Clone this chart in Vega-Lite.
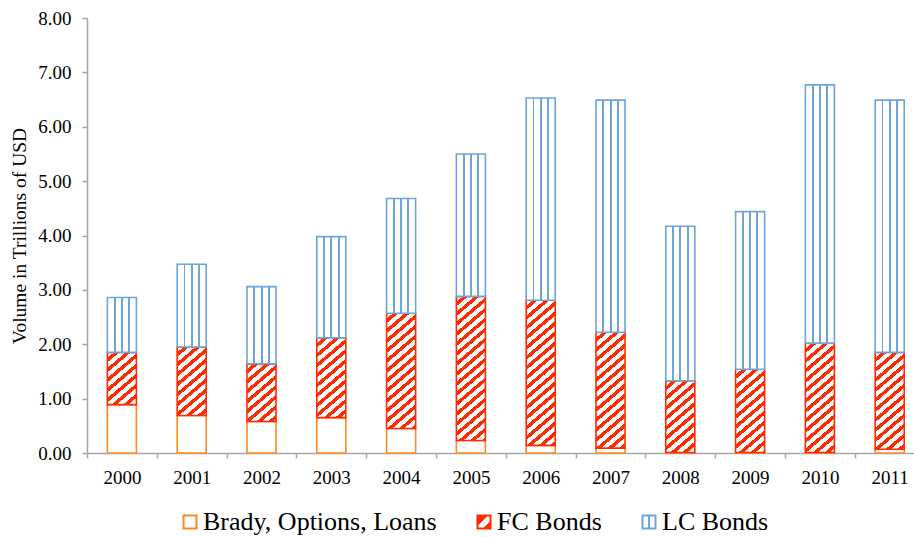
{
  "$schema": "https://vega.github.io/schema/vega-lite/v6.json",
  "autosize": "none",
  "width": 827,
  "height": 435,
  "padding": {"left": 87, "top": 18, "right": 0, "bottom": 84},
  "background": "white",
  "params": [
    {"name": "fcStops", "value": [
      {"offset": 0, "color": "white"}, {"offset": 0.0275, "color": "white"}, {"offset": 0.0275, "color": "#FF2A00"}, {"offset": 0.05, "color": "#FF2A00"},
      {"offset": 0.05, "color": "white"}, {"offset": 0.0775, "color": "white"}, {"offset": 0.0775, "color": "#FF2A00"}, {"offset": 0.1, "color": "#FF2A00"},
      {"offset": 0.1, "color": "white"}, {"offset": 0.1275, "color": "white"}, {"offset": 0.1275, "color": "#FF2A00"}, {"offset": 0.15, "color": "#FF2A00"},
      {"offset": 0.15, "color": "white"}, {"offset": 0.1775, "color": "white"}, {"offset": 0.1775, "color": "#FF2A00"}, {"offset": 0.2, "color": "#FF2A00"},
      {"offset": 0.2, "color": "white"}, {"offset": 0.2275, "color": "white"}, {"offset": 0.2275, "color": "#FF2A00"}, {"offset": 0.25, "color": "#FF2A00"},
      {"offset": 0.25, "color": "white"}, {"offset": 0.2775, "color": "white"}, {"offset": 0.2775, "color": "#FF2A00"}, {"offset": 0.3, "color": "#FF2A00"},
      {"offset": 0.3, "color": "white"}, {"offset": 0.3275, "color": "white"}, {"offset": 0.3275, "color": "#FF2A00"}, {"offset": 0.35, "color": "#FF2A00"},
      {"offset": 0.35, "color": "white"}, {"offset": 0.3775, "color": "white"}, {"offset": 0.3775, "color": "#FF2A00"}, {"offset": 0.4, "color": "#FF2A00"},
      {"offset": 0.4, "color": "white"}, {"offset": 0.4275, "color": "white"}, {"offset": 0.4275, "color": "#FF2A00"}, {"offset": 0.45, "color": "#FF2A00"},
      {"offset": 0.45, "color": "white"}, {"offset": 0.4775, "color": "white"}, {"offset": 0.4775, "color": "#FF2A00"}, {"offset": 0.5, "color": "#FF2A00"},
      {"offset": 0.5, "color": "white"}, {"offset": 0.5275, "color": "white"}, {"offset": 0.5275, "color": "#FF2A00"}, {"offset": 0.55, "color": "#FF2A00"},
      {"offset": 0.55, "color": "white"}, {"offset": 0.5775, "color": "white"}, {"offset": 0.5775, "color": "#FF2A00"}, {"offset": 0.6, "color": "#FF2A00"},
      {"offset": 0.6, "color": "white"}, {"offset": 0.6275, "color": "white"}, {"offset": 0.6275, "color": "#FF2A00"}, {"offset": 0.65, "color": "#FF2A00"},
      {"offset": 0.65, "color": "white"}, {"offset": 0.6775, "color": "white"}, {"offset": 0.6775, "color": "#FF2A00"}, {"offset": 0.7, "color": "#FF2A00"},
      {"offset": 0.7, "color": "white"}, {"offset": 0.7275, "color": "white"}, {"offset": 0.7275, "color": "#FF2A00"}, {"offset": 0.75, "color": "#FF2A00"},
      {"offset": 0.75, "color": "white"}, {"offset": 0.7775, "color": "white"}, {"offset": 0.7775, "color": "#FF2A00"}, {"offset": 0.8, "color": "#FF2A00"},
      {"offset": 0.8, "color": "white"}, {"offset": 0.8275, "color": "white"}, {"offset": 0.8275, "color": "#FF2A00"}, {"offset": 0.85, "color": "#FF2A00"},
      {"offset": 0.85, "color": "white"}, {"offset": 0.8775, "color": "white"}, {"offset": 0.8775, "color": "#FF2A00"}, {"offset": 0.9, "color": "#FF2A00"},
      {"offset": 0.9, "color": "white"}, {"offset": 0.9275, "color": "white"}, {"offset": 0.9275, "color": "#FF2A00"}, {"offset": 0.95, "color": "#FF2A00"},
      {"offset": 0.95, "color": "white"}, {"offset": 0.9775, "color": "white"}, {"offset": 0.9775, "color": "#FF2A00"}, {"offset": 1, "color": "#FF2A00"}
    ]},
    {"name": "lcStops", "value": [
      {"offset": 0, "color": "white"}, {"offset": 0.22, "color": "white"}, {"offset": 0.22, "color": "#6FA3DC"}, {"offset": 0.285, "color": "#6FA3DC"},
      {"offset": 0.285, "color": "white"}, {"offset": 0.47, "color": "white"}, {"offset": 0.47, "color": "#6FA3DC"}, {"offset": 0.535, "color": "#6FA3DC"},
      {"offset": 0.535, "color": "white"}, {"offset": 0.72, "color": "white"}, {"offset": 0.72, "color": "#6FA3DC"}, {"offset": 0.785, "color": "#6FA3DC"},
      {"offset": 0.785, "color": "white"}, {"offset": 1, "color": "white"}
    ]},
    {"name": "legFcStops", "value": [
      {"offset": 0, "color": "#FF2A00"}, {"offset": 0.42, "color": "#FF2A00"}, {"offset": 0.42, "color": "white"}, {"offset": 0.72, "color": "white"},
      {"offset": 0.72, "color": "#FF2A00"}, {"offset": 1, "color": "#FF2A00"}
    ]},
    {"name": "legLcStops", "value": [
      {"offset": 0, "color": "white"}, {"offset": 0.4, "color": "white"}, {"offset": 0.4, "color": "#6FA3DC"}, {"offset": 0.6, "color": "#6FA3DC"},
      {"offset": 0.6, "color": "white"}, {"offset": 1, "color": "white"}
    ]}
  ],
  "data": {
    "values": [
      {"year": "2000", "series": "Brady, Options, Loans", "value": 0.89},
      {"year": "2000", "series": "FC Bonds", "value": 0.96},
      {"year": "2000", "series": "LC Bonds", "value": 1.01},
      {"year": "2001", "series": "Brady, Options, Loans", "value": 0.69},
      {"year": "2001", "series": "FC Bonds", "value": 1.26},
      {"year": "2001", "series": "LC Bonds", "value": 1.52},
      {"year": "2002", "series": "Brady, Options, Loans", "value": 0.58},
      {"year": "2002", "series": "FC Bonds", "value": 1.06},
      {"year": "2002", "series": "LC Bonds", "value": 1.42},
      {"year": "2003", "series": "Brady, Options, Loans", "value": 0.65},
      {"year": "2003", "series": "FC Bonds", "value": 1.47},
      {"year": "2003", "series": "LC Bonds", "value": 1.86},
      {"year": "2004", "series": "Brady, Options, Loans", "value": 0.45},
      {"year": "2004", "series": "FC Bonds", "value": 2.12},
      {"year": "2004", "series": "LC Bonds", "value": 2.11},
      {"year": "2005", "series": "Brady, Options, Loans", "value": 0.23},
      {"year": "2005", "series": "FC Bonds", "value": 2.65},
      {"year": "2005", "series": "LC Bonds", "value": 2.62},
      {"year": "2006", "series": "Brady, Options, Loans", "value": 0.14},
      {"year": "2006", "series": "FC Bonds", "value": 2.67},
      {"year": "2006", "series": "LC Bonds", "value": 3.72},
      {"year": "2007", "series": "Brady, Options, Loans", "value": 0.09},
      {"year": "2007", "series": "FC Bonds", "value": 2.13},
      {"year": "2007", "series": "LC Bonds", "value": 4.27},
      {"year": "2008", "series": "Brady, Options, Loans", "value": 0.01},
      {"year": "2008", "series": "FC Bonds", "value": 1.32},
      {"year": "2008", "series": "LC Bonds", "value": 2.84},
      {"year": "2009", "series": "Brady, Options, Loans", "value": 0.01},
      {"year": "2009", "series": "FC Bonds", "value": 1.53},
      {"year": "2009", "series": "LC Bonds", "value": 2.90},
      {"year": "2010", "series": "Brady, Options, Loans", "value": 0.01},
      {"year": "2010", "series": "FC Bonds", "value": 2.01},
      {"year": "2010", "series": "LC Bonds", "value": 4.75},
      {"year": "2011", "series": "Brady, Options, Loans", "value": 0.07},
      {"year": "2011", "series": "FC Bonds", "value": 1.78},
      {"year": "2011", "series": "LC Bonds", "value": 4.64}
    ]
  },
  "mark": {"type": "bar", "strokeWidth": 1.6},
  "encoding": {
    "x": {
      "field": "year", "type": "nominal", "sort": null,
      "scale": {"range": [0, 837.6], "paddingInner": 0.584, "paddingOuter": 0.292},
      "axis": {
        "title": null, "bandPosition": 0.5, "tickOffset": -34.9, "labelOffset": 34.9,
        "labelFont": "Liberation Serif", "labelFontSize": 19, "labelColor": "black", "labelAngle": 0,
        "labelPadding": 10, "tickSize": 5, "tickColor": "#A6A6A6", "domainColor": "#A6A6A6",
        "tickWidth": 1.5, "domainWidth": 1.5, "grid": false
      }
    },
    "y": {
      "field": "value", "type": "quantitative", "stack": "zero",
      "scale": {"domain": [0, 8], "nice": false},
      "axis": {
        "title": "Volume in Trillions of USD", "values": [0, 1, 2, 3, 4, 5, 6, 7, 8], "format": ".2f",
        "labelFont": "Liberation Serif", "labelFontSize": 19, "labelColor": "black", "labelPadding": 11,
        "titleFont": "Liberation Serif", "titleFontSize": 19.5, "titleFontWeight": "normal", "titleColor": "black",
        "titlePadding": 8, "tickSize": 5, "tickColor": "#A6A6A6", "domainColor": "#A6A6A6",
        "tickWidth": 1.5, "domainWidth": 1.5, "grid": false
      }
    },
    "order": {"field": "series", "sort": "ascending"},
    "stroke": {
      "field": "series", "type": "nominal",
      "scale": {"domain": ["Brady, Options, Loans", "FC Bonds", "LC Bonds"], "range": ["#FF8A1E", "#FF2A00", "#6FA3DC"]},
      "legend": {
        "orient": "none", "legendX": 90, "legendY": 491, "direction": "horizontal", "columns": 3,
        "title": null, "symbolType": "square", "symbolSize": 169, "symbolStrokeWidth": 2,
        "labelFont": "Liberation Serif", "labelFontSize": 26, "labelColor": "black", "labelOffset": 0,
        "columnPadding": 34, "padding": 0, "labelLimit": 400
      }
    },
    "fill": {
      "value": {"expr": "datum.series == null ? (datum.value === 'FC Bonds' ? {gradient: 'linear', x1: 0, y1: 0, x2: 1, y2: 1, stops: legFcStops} : datum.value === 'LC Bonds' ? {gradient: 'linear', x1: 0, y1: 0, x2: 1, y2: 0, stops: legLcStops} : 'white') : datum.series === 'FC Bonds' ? {gradient: 'linear', x1: 0, y1: 0, x2: 0.85*bandwidth('x')*200/(pow(0.85*bandwidth('x'),2)+pow(scale('y',datum.value_start)-scale('y',datum.value_end),2)), y2: (scale('y',datum.value_start)-scale('y',datum.value_end))*200/(pow(0.85*bandwidth('x'),2)+pow(scale('y',datum.value_start)-scale('y',datum.value_end),2)), stops: fcStops} : datum.series === 'LC Bonds' ? {gradient: 'linear', x1: 0, y1: 0, x2: 1, y2: 0, stops: lcStops} : 'white'"}
    }
  },
  "config": {"view": {"stroke": null}}
}
